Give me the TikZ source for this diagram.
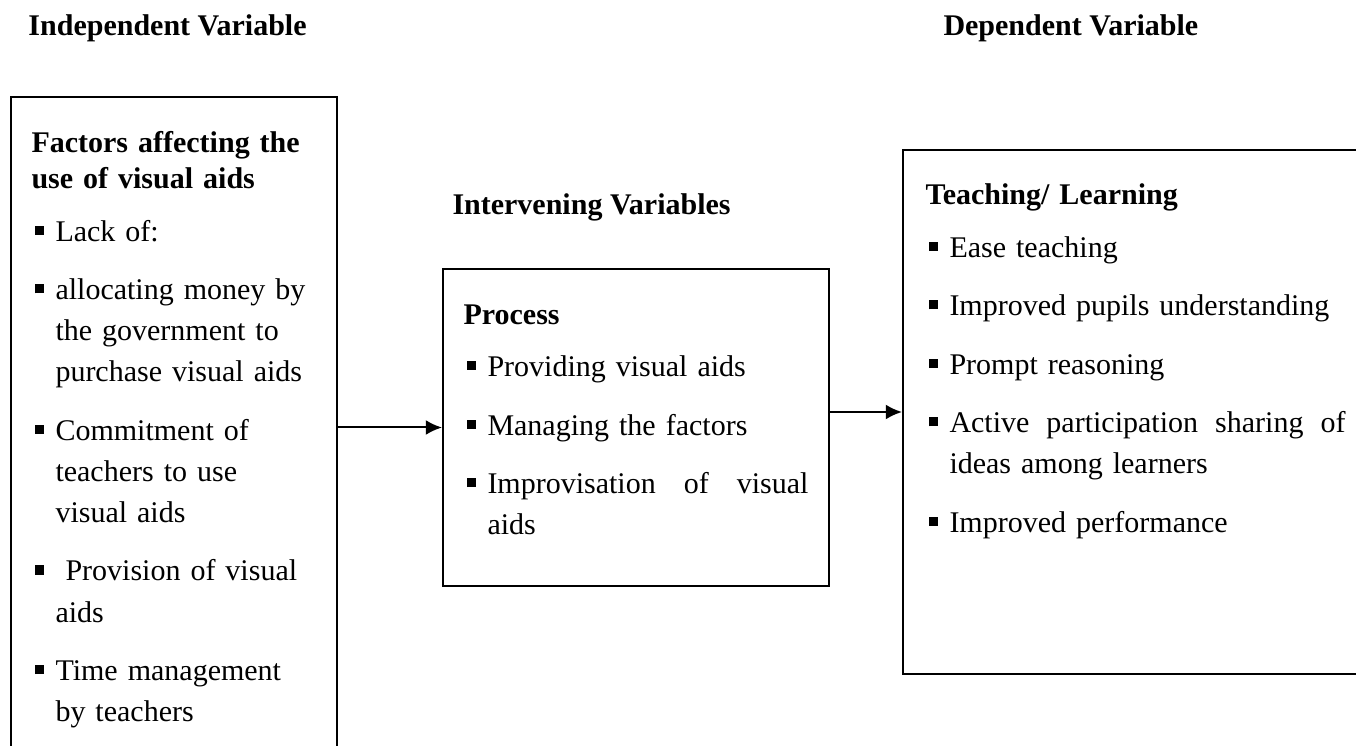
\documentclass[tikz,border=0pt]{standalone}
\usepackage{fontspec}
\setmainfont{Liberation Serif}
\usetikzlibrary{arrows.meta,positioning,fit}

\newcommand{\sqbullet}{\raisebox{2.6pt}{\rule{3.6pt}{3.6pt}}}
\newcommand{\boxhead}[1]{{\fontsize{12pt}{14.4pt}\selectfont\bfseries #1\par}}
\newenvironment{squarelist}{\begin{list}{\sqbullet}{%
  \setlength{\leftmargin}{9.6pt}\setlength{\labelwidth}{3.6pt}%
  \setlength{\labelsep}{4.8pt}\setlength{\itemsep}{7pt}%
  \setlength{\parsep}{0pt}\setlength{\topsep}{4.6pt}%
  \setlength{\partopsep}{0pt}\setlength{\itemindent}{0pt}}}{\end{list}}

\begin{document}
\begin{tikzpicture}[x=0.4pt,y=-0.4pt,
  varbox/.style={draw,line width=0.8pt,inner sep=0pt},
  vartitle/.style={anchor=base west,inner sep=0pt,font=\fontsize{12pt}{14.4pt}\selectfont\bfseries},
  boxtext/.style={anchor=base west,inner sep=0pt,font=\fontsize{12pt}{16.4pt}\selectfont},
  flow/.style={line width=0.8pt,-{Latex[length=6.5pt,width=6pt]}}]
  \useasboundingbox (0,0) rectangle (1356,746);
  \clip (0,0) rectangle (1356,746);
  % variable titles
  \node[vartitle] (indeptitle) at (28,36) {Independent Variable};
  \node[vartitle] (deptitle) at (943,36) {Dependent Variable};
  \node[vartitle] (intertitle) at (452,215) {Intervening Variables};
  % the three boxes
  \node[varbox,fit={(11,97) (337,800)}] (factors) {};
  \node[varbox,fit={(443,269) (829,586)}] (process) {};
  \node[varbox,fit={(903,150) (1400,674)}] (teaching) {};
  % texts in the boxes
  \node[boxtext,text width=124pt] (factorstext) at (31,153) {\boxhead{Factors affecting the\\use of visual aids}
    \begin{squarelist}
      \item Lack of:
      \item allocating money by\\the government to\\purchase visual aids
      \item Commitment of\\teachers to use\\visual aids
      \item \ Provision of visual\\aids
      \item Time management\\by teachers
    \end{squarelist}};
  \node[boxtext,text width=138pt] (processtext) at (463,324) {\boxhead{Process}
    \begin{squarelist}
      \item Providing visual aids
      \item Managing the factors
      \item Improvisation\hfill of\hfill visual\\aids
    \end{squarelist}};
  \node[boxtext,text width=168pt] (teachingtext) at (925,205) {\boxhead{Teaching/ Learning}
    \begin{squarelist}
      \item Ease teaching
      \item Improved pupils understanding
      \item Prompt reasoning
      \item Active\hfill participation\hfill sharing\hfill of\\ideas among learners
      \item Improved performance
    \end{squarelist}};
  % arrows
  \draw[flow] (factors.east |- process.west) -- (process.west);
  \draw[flow] (process.east |- teaching.west) -- (teaching.west);
\end{tikzpicture}
\end{document}
